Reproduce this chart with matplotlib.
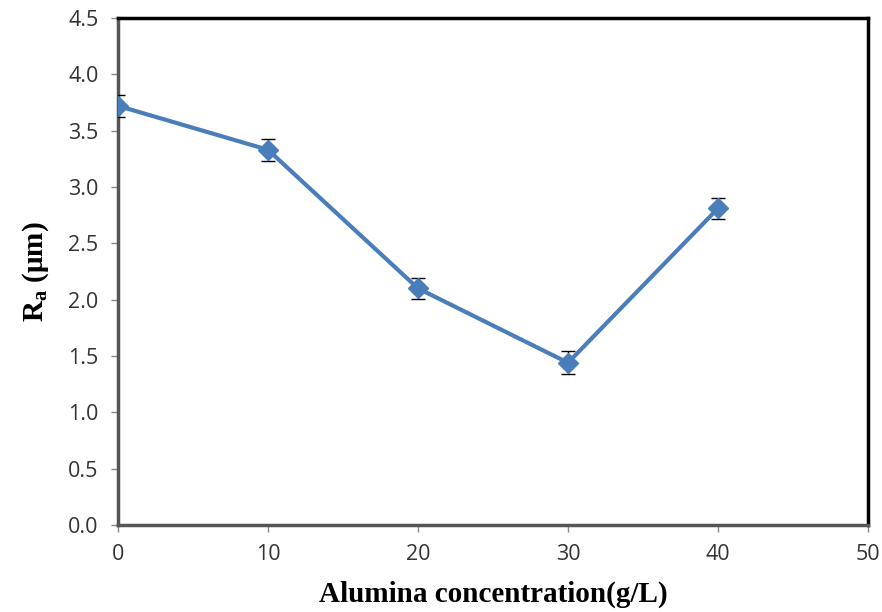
import matplotlib.pyplot as plt

# data
conc = [0, 10, 20, 30, 40]
ra = [3.72, 3.33, 2.10, 1.44, 2.81]
ra_err = [0.10, 0.10, 0.09, 0.10, 0.09]

xticks = [0, 10, 20, 30, 40, 50]
yticks = [0.0, 0.5, 1.0, 1.5, 2.0, 2.5, 3.0, 3.5, 4.0, 4.5]

fig = plt.figure(figsize=(8.82, 6.12), dpi=100)
ax = fig.add_axes([0.1338, 0.1422, 0.8503, 0.8284])

ax.errorbar(conc, ra, yerr=ra_err, color='#4a7ebb', lw=3, marker='D',
            ms=10, mfc='#4a7ebb', mec='#4a7ebb', ecolor='black',
            elinewidth=1, capsize=5, capthick=1, zorder=3)

ax.set_xlim(0, 50)
ax.set_ylim(0, 4.5)
ax.set_xticks(xticks)
ax.set_yticks(yticks)
ax.set_xticklabels([str(t) for t in xticks])
ax.set_yticklabels([f"{t:.1f}" for t in yticks])

for side in ['top', 'right']:
    ax.spines[side].set_color('black')
    ax.spines[side].set_linewidth(2.5)
for side in ['left', 'bottom']:
    ax.spines[side].set_color('#555555')
    ax.spines[side].set_linewidth(2.5)

ax.tick_params(direction='out', length=5, width=1, color='#888888',
               labelsize=15.5, pad=9)
for lbl in ax.get_xticklabels() + ax.get_yticklabels():
    lbl.set_family('Open Sans')
    lbl.set_color('#333333')

ax.set_xlabel('Alumina concentration(g/L)', fontsize=21, fontweight='bold',
              family='Liberation Serif', labelpad=11)
ax.set_ylabel(r'R$_\mathregular{a}$ ($\mathregular{\mu}$m)', fontsize=21,
              fontweight='bold', family='Liberation Serif', labelpad=12)

fig.savefig('out.png', dpi=100)
